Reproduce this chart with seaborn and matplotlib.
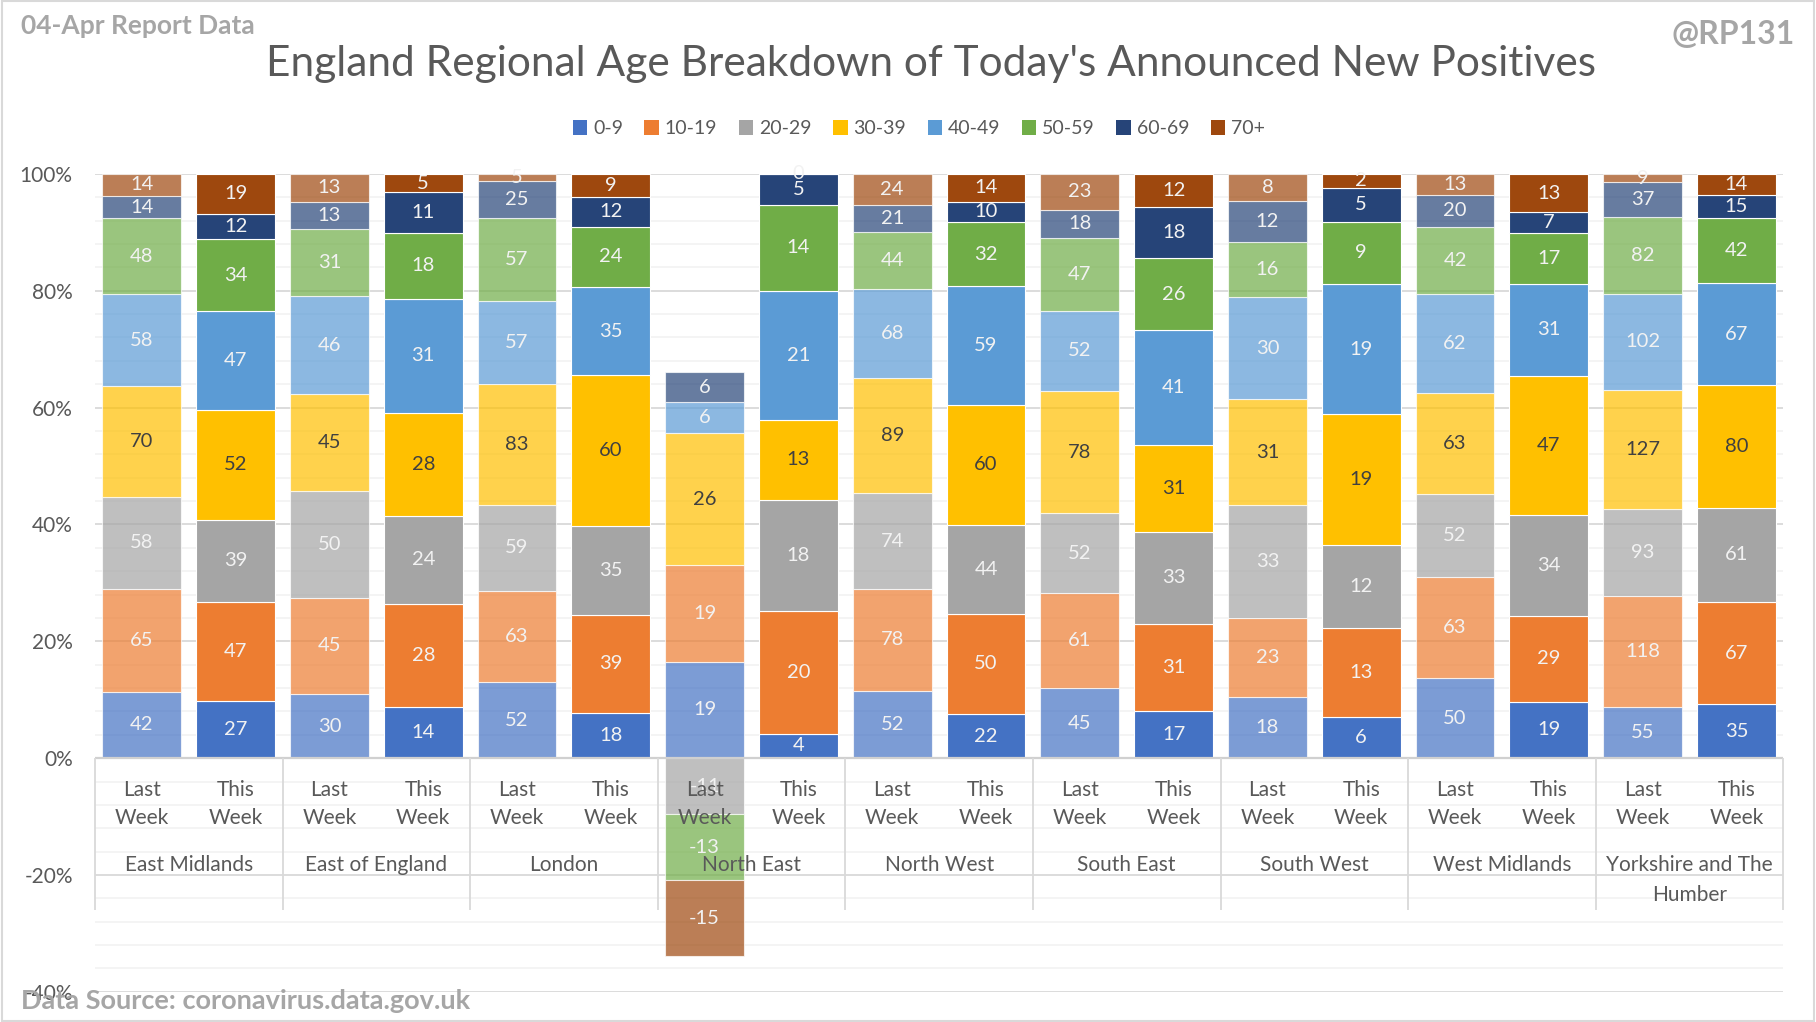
import numpy as np
import pandas as pd
import seaborn as sns
import matplotlib
import matplotlib.pyplot as plt
from matplotlib.patches import Patch, Rectangle
from matplotlib.ticker import MultipleLocator, PercentFormatter

matplotlib.use('Agg')

regions = ['East Midlands', 'East of England', 'London', 'North East', 'North West',
           'South East', 'South West', 'West Midlands', 'Yorkshire and The\nHumber']
ages = ['0-9', '10-19', '20-29', '30-39', '40-49', '50-59', '60-69', '70+']
colors = ['#4472C4', '#ED7D31', '#A5A5A5', '#FFC000', '#5B9BD5', '#70AD47', '#264478', '#9E480E']

# counts per region, in age order 0-9 .. 70+
last_week = [
    [42, 65, 58, 70, 58, 48, 14, 14],
    [30, 45, 50, 45, 46, 31, 13, 13],
    [52, 63, 59, 83, 57, 57, 25, 5],
    [19, 19, -11, 26, 6, -13, 6, -15],
    [52, 78, 74, 89, 68, 44, 21, 24],
    [45, 61, 52, 78, 52, 47, 18, 23],
    [18, 23, 33, 31, 30, 16, 12, 8],
    [50, 63, 52, 63, 62, 42, 20, 13],
    [55, 118, 93, 127, 102, 82, 37, 9],
]
this_week = [
    [27, 47, 39, 52, 47, 34, 12, 19],
    [14, 28, 24, 28, 31, 18, 11, 5],
    [18, 39, 35, 60, 35, 24, 12, 9],
    [4, 20, 18, 13, 21, 14, 5, 0],
    [22, 50, 44, 60, 59, 32, 10, 14],
    [17, 31, 33, 31, 41, 26, 18, 12],
    [6, 13, 12, 19, 19, 9, 5, 2],
    [19, 29, 34, 47, 31, 17, 7, 13],
    [35, 67, 61, 80, 67, 42, 15, 14],
]
weeks = ['Last', 'This']

# build a long table, 100% stacked like excel (share of sum of abs values)
rows = []
for i, reg in enumerate(regions):
    for w, data in enumerate([last_week[i], this_week[i]]):
        total = sum(abs(v) for v in data)
        up, down = 0.0, 0.0
        for a, v in enumerate(data):
            p = v / total
            if v >= 0:
                b = up
                up += p
            else:
                b = down
                down += p
            rows.append(dict(region=reg, week=weeks[w], age=ages[a], count=v,
                             pos=2 * i + w, pct=p, bottom=b))
df = pd.DataFrame(rows)

sns.set_theme(style='white')
plt.rcParams['font.family'] = ['Lato', 'DejaVu Sans']
plt.rcParams['axes.unicode_minus'] = False

fig = plt.figure(figsize=(18.16, 10.22), dpi=100)
ax = fig.add_axes([0.0523, 0.0295, 0.9297, 0.8004])

for w, wk in enumerate(weeks):
    for a, age in enumerate(ages):
        sub = df[(df.week == wk) & (df.age == age)].sort_values('pos')
        sns.barplot(data=sub, x='pos', y='pct', bottom=sub['bottom'].values,
                    native_scale=True, orient='x', width=0.42, color=colors[a],
                    saturation=1, errorbar=None, alpha=0.7 if wk == 'Last' else 1.0,
                    edgecolor=(1, 1, 1, 0.5), linewidth=0.8, ax=ax)

for _, r in df.iterrows():
    tc = '#404040' if r.age == '30-39' else '#F2F2F2'
    ax.text(r.pos, r.bottom + r.pct / 2, str(r['count']), ha='center', va='center',
            fontsize=14.5, color=tc, zorder=5)

ax.set_xlim(-0.5, 17.5)
ax.set_ylim(-0.4, 1.0)
ax.yaxis.set_major_locator(MultipleLocator(0.2))
ax.yaxis.set_minor_locator(MultipleLocator(0.04))
ax.yaxis.set_major_formatter(PercentFormatter(1.0, decimals=0))
ax.grid(which='major', axis='y', color='#D9D9D9', lw=1.3)
ax.grid(which='minor', axis='y', color='#F2F2F2', lw=1.2)
ax.grid(False, axis='x')
ax.set_axisbelow(True)
for s in ax.spines.values():
    s.set_visible(False)
ax.set_xticks([])
ax.set_xlabel('')
ax.set_ylabel('')
ax.tick_params(axis='y', which='both', length=0, pad=16, labelsize=15, labelcolor='#595959')
ax.axhline(0, color='#D0D0D0', lw=1.6, zorder=1)

# multi-level category labels
ax.vlines([-0.5 + 2 * i for i in range(10)], -0.26, 0, color='#D9D9D9', lw=1.3,
          clip_on=False, zorder=1)
for i, reg in enumerate(regions):
    for w, wk in enumerate(weeks):
        ax.text(2 * i + w, -0.054, wk, ha='center', va='center', fontsize=15,
                color='#595959', zorder=6)
        ax.text(2 * i + w, -0.103, 'Week', ha='center', va='center', fontsize=15,
                color='#595959', zorder=6)
    for k, line in enumerate(reg.split('\n')):
        ax.text(2 * i + 0.5, -0.183 - 0.051 * k, line, ha='center', va='center',
                fontsize=15, color='#595959', zorder=6)

handles = [Patch(facecolor=c, edgecolor='none') for c in colors]
leg = fig.legend(handles, ages, loc='center', bbox_to_anchor=(0.506, 0.874), ncol=8,
                 frameon=False, handlelength=0.75, handleheight=0.75, handletextpad=0.3,
                 columnspacing=1.1, fontsize=14)
for t in leg.get_texts():
    t.set_color('#595959')

fig.text(0.5124, 0.9376, "England Regional Age Breakdown of Today's Announced New Positives",
         ha='center', va='center', fontsize=30.5, color='#595959')
fig.text(0.0115, 0.975, '04-Apr Report Data', ha='left', va='center', fontsize=19,
         fontweight='bold', color='#A6A6A6')
fig.text(0.9885, 0.966, '@RP131', ha='right', va='center', fontsize=23,
         fontweight='bold', color='#A6A6A6')
fig.text(0.0115, 0.0204, 'Data Source: coronavirus.data.gov.uk', ha='left', va='center',
         fontsize=19.5, fontweight='bold', color='#A6A6A6')

fig.patches.append(Rectangle((0.001, 0.001), 0.998, 0.998, transform=fig.transFigure,
                             fill=False, edgecolor='#D9D9D9', lw=1.5))

plt.savefig('out.png', dpi=100)
plt.close()
